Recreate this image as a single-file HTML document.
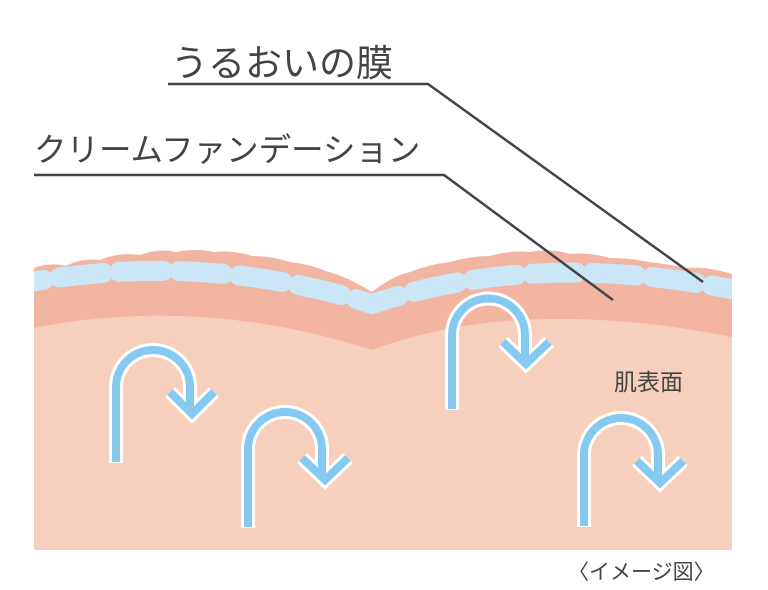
<!DOCTYPE html>
<html><head><meta charset="utf-8"><style>
html,body{margin:0;padding:0;background:#fff;width:768px;height:590px;overflow:hidden}
svg{display:block}
text{font-family:"Liberation Sans","Noto Sans CJK JP",sans-serif;fill:#444}
</style></head><body>
<svg width="768" height="590" viewBox="0 0 768 590" xmlns="http://www.w3.org/2000/svg">
<defs><clipPath id="c"><rect x="34" y="200" width="698" height="350"/></clipPath></defs>
<path d="M34,268 Q50,262 66,266 Q80,258 100,260 Q118,252 140,255 Q158,248 176,252 Q196,248 214,252 Q234,250 252,256 Q272,256 290,262 Q310,264 328,272 Q346,276 372,292 Q392,276 410,272 Q430,264 450,262 Q470,256 490,256 Q510,250 530,252 Q552,248 570,254 Q590,252 610,258 Q630,258 648,262 Q668,264 686,268 Q706,266 732,274 L732,550 L34,550 Z" fill="#f2b5a1"/>
<path d="M34,328 Q200,295 372,350 Q520,295 732,337 L732,550 L34,550 Z" fill="#f6d0bd"/>
<g clip-path="url(#c)">
<path d="M20,284 Q200,250 372,304 Q540,248 745,292" fill="none" stroke="#cbe6f7" stroke-width="20" stroke-linecap="round" stroke-dasharray="44 16" stroke-dashoffset="20"/>
</g>
<g fill="none">
<g stroke="#fff" stroke-width="14">
<path d="M116,463 V387 A37,37 0 0 1 190,387 V410"/>
<path d="M170,392 L192,414 L214,392"/>
<path d="M248,528 V449 A37,37 0 0 1 322,449 V474"/>
<path d="M302,458 L325,480 L348,458"/>
<path d="M452,410 V335 A36.5,36.5 0 0 1 525,335 V358"/>
<path d="M503,342 L526,364 L549,342"/>
<path d="M584,527 V455 A37,37 0 0 1 658,455 V478"/>
<path d="M637,461 L660,483 L683,461"/>
</g>
<g stroke="#86c9f0" stroke-width="8">
<path d="M116,462 V387 A37,37 0 0 1 190,387 V410"/>
<path d="M170,392 L192,414 L214,392"/>
<path d="M248,527 V449 A37,37 0 0 1 322,449 V474"/>
<path d="M302,458 L325,480 L348,458"/>
<path d="M452,409 V335 A36.5,36.5 0 0 1 525,335 V358"/>
<path d="M503,342 L526,364 L549,342"/>
<path d="M584,526 V455 A37,37 0 0 1 658,455 V478"/>
<path d="M637,461 L660,483 L683,461"/>
</g>
</g>
<path d="M168,84 H428 L703,282" fill="none" stroke="#444" stroke-width="2.5"/>
<path d="M34,175 H444 L613,300" fill="none" stroke="#444" stroke-width="2.5"/>
<text x="171" y="76" font-size="37">うるおいの膜</text>
<text x="34" y="161" font-size="32.5">クリームファンデーション</text>
<text x="614" y="390" font-size="23">肌表面</text>
<text x="568" y="579" font-size="21">〈イメージ図〉</text>
</svg>
</body></html>
